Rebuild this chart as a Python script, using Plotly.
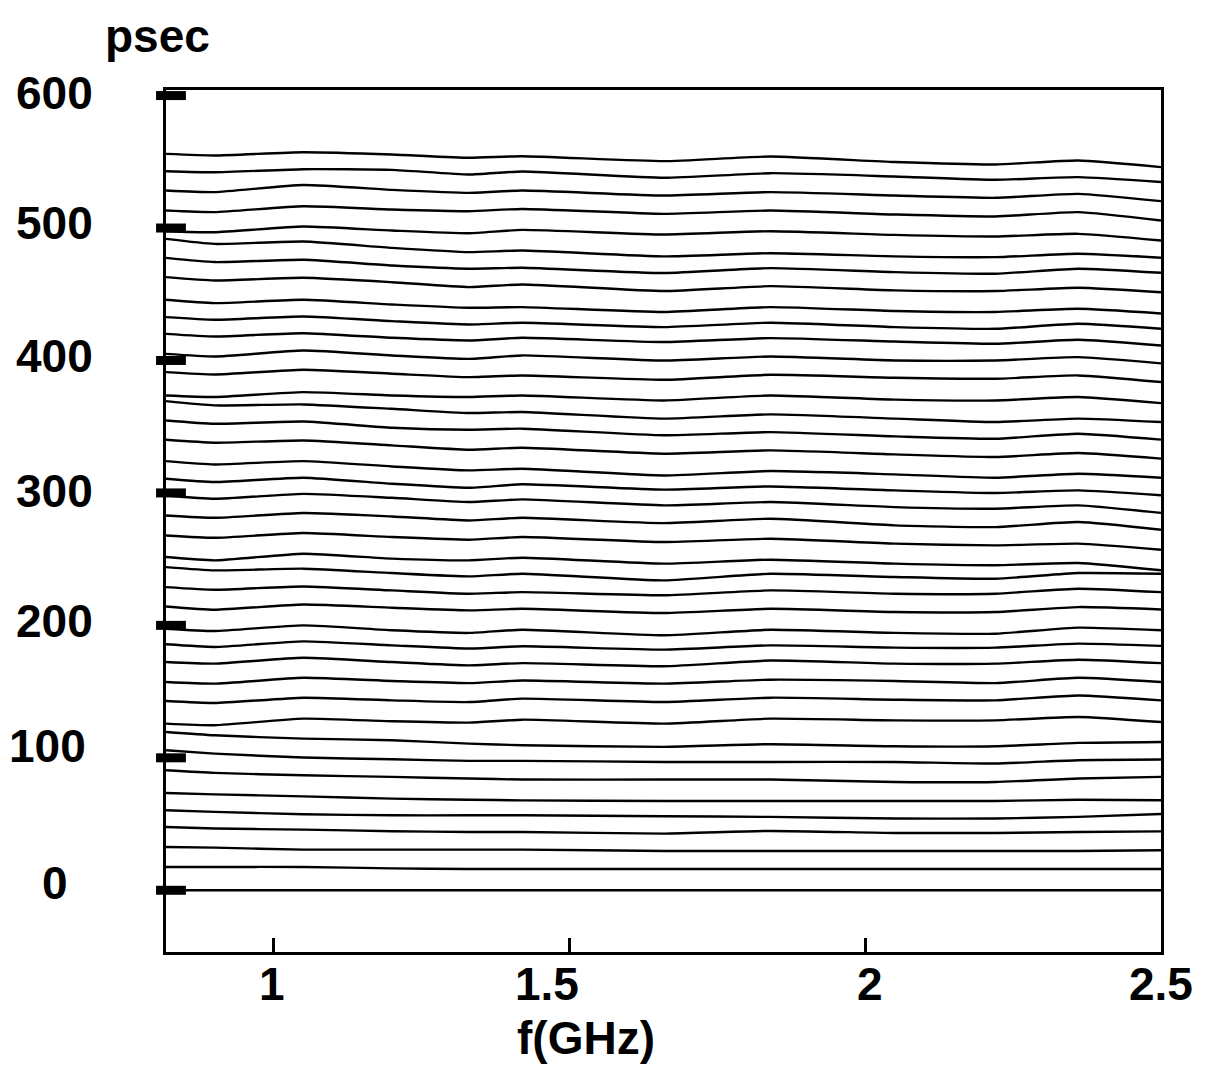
import plotly.graph_objects as go

# frequency samples (GHz) shared by every trace
freq_ghz = [0.818, 0.9, 1.05, 1.2, 1.33, 1.42, 1.66, 1.84, 2.05, 2.22, 2.36, 2.5]

# group delay traces, psec (top to bottom)
d01 = [556.0, 554.8, 557.2, 555.5, 553.0, 554.2, 550.5, 554.0, 549.8, 548.0, 551.0, 546.0]
d02 = [542.9, 542.1, 544.4, 543.9, 540.4, 542.7, 537.9, 541.4, 538.9, 536.4, 538.4, 534.7]
d03 = [528.3, 527.1, 532.5, 528.8, 526.5, 528.3, 524.5, 527.1, 524.5, 522.8, 525.8, 520.3]
d04 = [513.2, 512.0, 516.4, 514.0, 512.7, 514.4, 510.7, 513.2, 510.2, 508.7, 512.0, 505.7]
d05 = [497.6, 496.8, 501.1, 498.1, 496.1, 498.6, 495.1, 497.6, 494.8, 493.6, 495.6, 490.6]
d06 = [491.8, 488.0, 489.8, 485.0, 481.8, 483.0, 478.6, 481.0, 478.6, 478.0, 480.6, 477.6]
d07 = [477.5, 474.3, 476.0, 471.7, 469.3, 470.0, 466.0, 469.7, 466.7, 465.5, 469.3, 466.2]
d08 = [462.9, 460.4, 462.4, 459.1, 455.4, 457.4, 452.4, 456.1, 452.9, 452.4, 454.9, 451.5]
d09 = [445.8, 443.3, 445.8, 442.3, 439.8, 440.3, 436.6, 440.3, 437.3, 436.6, 439.0, 435.5]
d10 = [432.7, 430.7, 433.2, 429.7, 427.2, 428.5, 425.2, 428.5, 425.2, 423.9, 427.7, 423.9]
d11 = [420.1, 418.1, 420.6, 417.1, 415.1, 417.1, 413.9, 416.9, 414.3, 412.6, 415.6, 411.3]
d12 = [405.0, 403.0, 407.5, 403.8, 401.2, 403.8, 400.0, 403.0, 400.0, 400.0, 402.5, 397.8]
d13 = [391.2, 389.4, 393.0, 390.0, 387.4, 388.7, 385.4, 389.2, 387.0, 386.2, 388.7, 383.7]
d14 = [373.6, 372.4, 376.1, 373.6, 372.4, 373.6, 369.8, 373.6, 370.4, 369.8, 372.4, 367.8]
d15 = [369.3, 366.1, 366.8, 363.5, 360.3, 361.1, 356.1, 359.3, 356.1, 353.5, 356.1, 353.5]
d16 = [354.7, 352.2, 353.9, 349.2, 347.7, 348.5, 343.5, 345.9, 342.7, 340.9, 344.7, 340.2]
d17 = [340.1, 337.9, 339.6, 335.9, 332.6, 334.1, 329.6, 332.1, 329.1, 327.1, 330.1, 325.9]
d18 = [324.0, 321.5, 324.0, 320.0, 317.0, 318.2, 313.2, 316.5, 314.0, 311.5, 314.5, 311.5]
d19 = [310.7, 308.2, 311.5, 306.9, 303.9, 306.5, 302.5, 304.9, 301.9, 299.9, 301.9, 298.2]
d20 = [298.1, 295.6, 299.3, 296.3, 293.1, 295.1, 290.6, 293.1, 289.3, 288.1, 290.6, 284.9]
d21 = [283.0, 281.2, 284.8, 282.2, 279.2, 281.2, 277.2, 280.5, 275.5, 274.2, 278.0, 272.2]
d22 = [267.9, 266.1, 269.7, 266.7, 264.7, 266.7, 262.9, 265.4, 261.7, 260.4, 261.7, 257.1]
d23 = [251.6, 249.1, 254.1, 250.4, 249.1, 251.1, 246.6, 249.6, 246.6, 245.4, 247.1, 241.6]
d24 = [244.0, 241.5, 242.8, 239.5, 237.0, 239.0, 234.0, 239.0, 236.5, 235.2, 239.5, 239.0]
d25 = [228.9, 226.9, 229.4, 226.4, 223.9, 225.1, 222.7, 226.4, 223.9, 223.9, 227.7, 225.1]
d26 = [214.3, 211.8, 215.8, 213.3, 211.3, 212.5, 209.3, 212.5, 210.1, 210.1, 213.8, 212.0]
d27 = [197.5, 195.7, 200.0, 196.3, 194.3, 196.7, 192.5, 196.7, 194.3, 193.7, 198.3, 196.3]
d28 = [185.7, 183.7, 187.9, 184.9, 182.5, 184.2, 181.7, 184.9, 183.2, 183.2, 186.2, 184.5]
d29 = [172.3, 171.1, 175.5, 172.3, 169.8, 171.5, 169.1, 173.5, 171.1, 171.1, 174.1, 171.5]
d30 = [157.2, 156.0, 160.4, 158.0, 156.4, 158.4, 156.0, 159.0, 158.0, 156.4, 160.4, 157.2]
d31 = [142.9, 141.4, 145.4, 143.4, 142.1, 144.7, 142.1, 145.4, 143.9, 143.4, 147.1, 143.4]
d32 = [125.8, 124.6, 129.6, 127.6, 126.6, 128.8, 125.8, 129.6, 128.3, 128.3, 130.8, 127.0]
d33 = [119.5, 117.0, 114.5, 113.3, 110.7, 109.5, 108.3, 110.3, 108.7, 108.7, 111.3, 112.0]
d34 = [105.7, 103.2, 100.2, 98.9, 97.7, 97.7, 96.9, 96.9, 96.9, 95.7, 98.2, 98.7]
d35 = [90.6, 88.6, 86.8, 85.6, 84.4, 83.6, 83.6, 83.6, 81.8, 81.8, 84.4, 85.6]
d36 = [73.4, 72.4, 70.9, 69.2, 68.4, 67.9, 67.4, 67.4, 67.4, 67.4, 68.4, 68.0]
d37 = [60.4, 59.2, 57.4, 56.6, 56.6, 56.6, 55.9, 55.4, 54.2, 54.2, 55.4, 57.6]
d38 = [47.8, 46.6, 45.8, 44.6, 44.0, 44.0, 42.8, 44.8, 43.3, 43.3, 44.0, 44.5]
d39 = [32.7, 32.2, 30.7, 30.7, 30.7, 30.7, 29.7, 29.7, 29.7, 29.7, 29.7, 30.2]
d40 = [17.6, 17.6, 17.6, 16.5, 16.1, 16.1, 16.1, 16.1, 16.1, 16.1, 16.1, 16.1]
d41 = [0, 0, 0, 0, 0, 0, 0, 0, 0, 0, 0, 0]

y_ticks = [600, 500, 400, 300, 200, 100, 0]
y_tick_text = ["600", "500", "400", "300", "200", "100", "0"]
x_ticks = [1, 1.5, 2, 2.5]
x_tick_text = ["1", "1.5", "2", "2.5"]

traces = [d01, d02, d03, d04, d05, d06, d07, d08, d09, d10,
          d11, d12, d13, d14, d15, d16, d17, d18, d19, d20,
          d21, d22, d23, d24, d25, d26, d27, d28, d29, d30,
          d31, d32, d33, d34, d35, d36, d37, d38, d39, d40, d41]

FONT = "Liberation Sans, Arial, sans-serif"

fig = go.Figure()
for ys in traces:
    fig.add_trace(go.Scatter(x=freq_ghz, y=ys, mode="lines",
                             line=dict(color="black", width=2.4, shape="spline", smoothing=0.5),
                             showlegend=False, hoverinfo="skip", cliponaxis=False))

# heavy tick bars on the delay axis (they straddle the axis line)
for v in y_ticks:
    fig.add_shape(type="line", xref="paper", yref="y", x0=-0.010, x1=0.020, y0=v, y1=v,
                  line=dict(color="black", width=9))

# delay tick labels, centred in the left margin
ylab_shift = {"600": 3, "500": 5, "400": 4, "300": 2, "200": 4, "100": 12, "0": 7}
ylab_x = {"100": -0.119}
for v, t in zip(y_ticks, y_tick_text):
    fig.add_annotation(x=ylab_x.get(t, -0.1116), y=v, xref="paper", yref="y", text=f"<b>{t}</b>",
                       showarrow=False, xanchor="center", yanchor="middle", yshift=ylab_shift[t],
                       font=dict(family=FONT, size=46, color="black"))

# frequency tick labels
xlab_shift = {"1": -2, "1.5": -22, "2": 5, "2.5": 0}
for v, t in zip(x_ticks, x_tick_text):
    fig.add_annotation(x=v, y=0, xref="x", yref="paper", text=f"<b>{t}</b>",
                       showarrow=False, xanchor="center", yanchor="middle",
                       xshift=xlab_shift[t], yshift=-32,
                       font=dict(family=FONT, size=46, color="black"))

fig.add_annotation(x=0.422, y=0, xref="paper", yref="paper", text="<b>f(GHz)</b>",
                   showarrow=False, xanchor="center", yanchor="middle", yshift=-86,
                   font=dict(family=FONT, size=46, color="black"))
fig.add_annotation(x=-0.009, y=1, xref="paper", yref="paper", text="<b>psec</b>",
                   showarrow=False, xanchor="center", yanchor="middle", yshift=54,
                   font=dict(family=FONT, size=46, color="black"))

fig.update_xaxes(range=[0.818, 2.5], tickvals=[1, 1.5, 2], showticklabels=False,
                 ticks="inside", ticklen=14, tickwidth=2.5, tickcolor="black",
                 showline=True, linecolor="black", linewidth=2.5, mirror=True,
                 showgrid=False, zeroline=False)
fig.update_yaxes(range=[-46.6, 604.2], tickvals=y_ticks, showticklabels=False, ticks="",
                 showline=True, linecolor="black", linewidth=2.5, mirror=True,
                 showgrid=False, zeroline=False)

# the page body adds an 8px offset, so the figure is 8px smaller than the window
fig.update_layout(width=1201, height=1062,
                  margin=dict(l=158, r=48, t=82, b=118),
                  plot_bgcolor="white", paper_bgcolor="white",
                  font=dict(family=FONT, color="black"))

fig.write_html("out.html")
